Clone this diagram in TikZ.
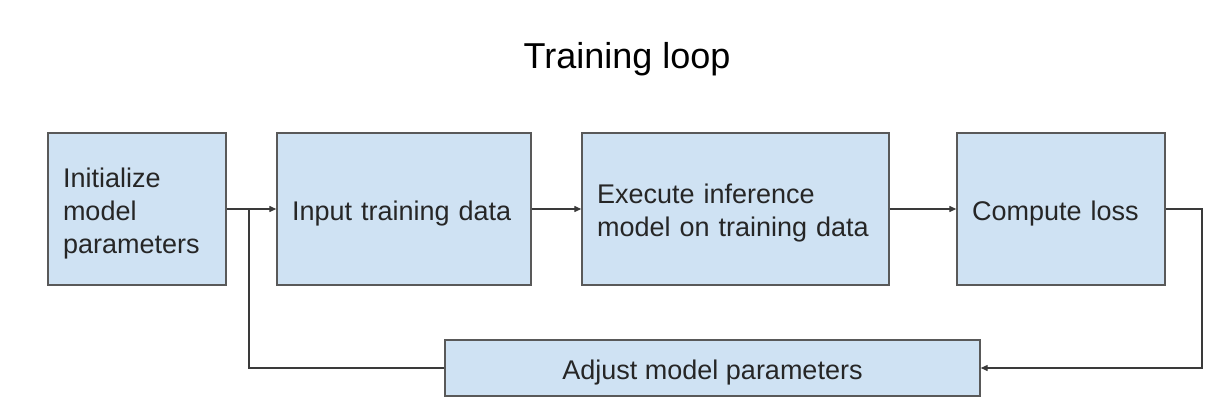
\documentclass[tikz,border=0pt]{standalone}
\usepackage{fontspec}
\setmainfont{Liberation Sans}
\usetikzlibrary{arrows.meta}
\definecolor{boxfill}{HTML}{CFE2F3}
\definecolor{boxline}{HTML}{595959}
\definecolor{conn}{HTML}{3A3A3A}
\definecolor{txt}{HTML}{262626}
\newcommand\tstrut{\rule{0pt}{28pt}}
\begin{document}
\begin{tikzpicture}[x=1pt,y=1pt,
  box/.style={draw=boxline, line width=1.4pt, fill=boxfill, text=txt,
    font=\fontsize{27}{33}\selectfont, inner xsep=15pt, inner ysep=0pt,
    align=left, minimum height=152pt},
  conline/.style={draw=conn, line width=1.3pt},
  arr/.style={conline, -{Triangle[length=7pt,width=6pt]}}]
\useasboundingbox (0,0) rectangle (1230,-418);
\node[font=\fontsize{36}{42}\selectfont, text=black] (title) at (627,-59) {Training loop};
\node[box, text width=148pt] (b1) at (137,-209) {\tstrut Initialize\\model\\parameters};
\node[box, text width=224pt] (b2) at (404,-209) {\tstrut Input training data};
\node[box, text width=277pt] (b3) at (735.5,-209) {\tstrut Execute inference\\model on training data};
\node[box, text width=178pt] (b4) at (1061,-209) {\tstrut Compute loss};
\node[box, align=center, minimum height=56pt, minimum width=535pt] (b5) at (712.5,-368) {\tstrut Adjust model parameters};
\coordinate (j) at (249,-209);
\coordinate (r) at (1202,-209);
\draw[arr] (b1.east) -- (b2.west);
\draw[arr] (b2.east) -- (b3.west);
\draw[arr] (b3.east) -- (b4.west);
\draw[conline] (b5.west) -| (j);
\draw[arr] (b4.east) -- (r) |- (b5.east);
\end{tikzpicture}
\end{document}
